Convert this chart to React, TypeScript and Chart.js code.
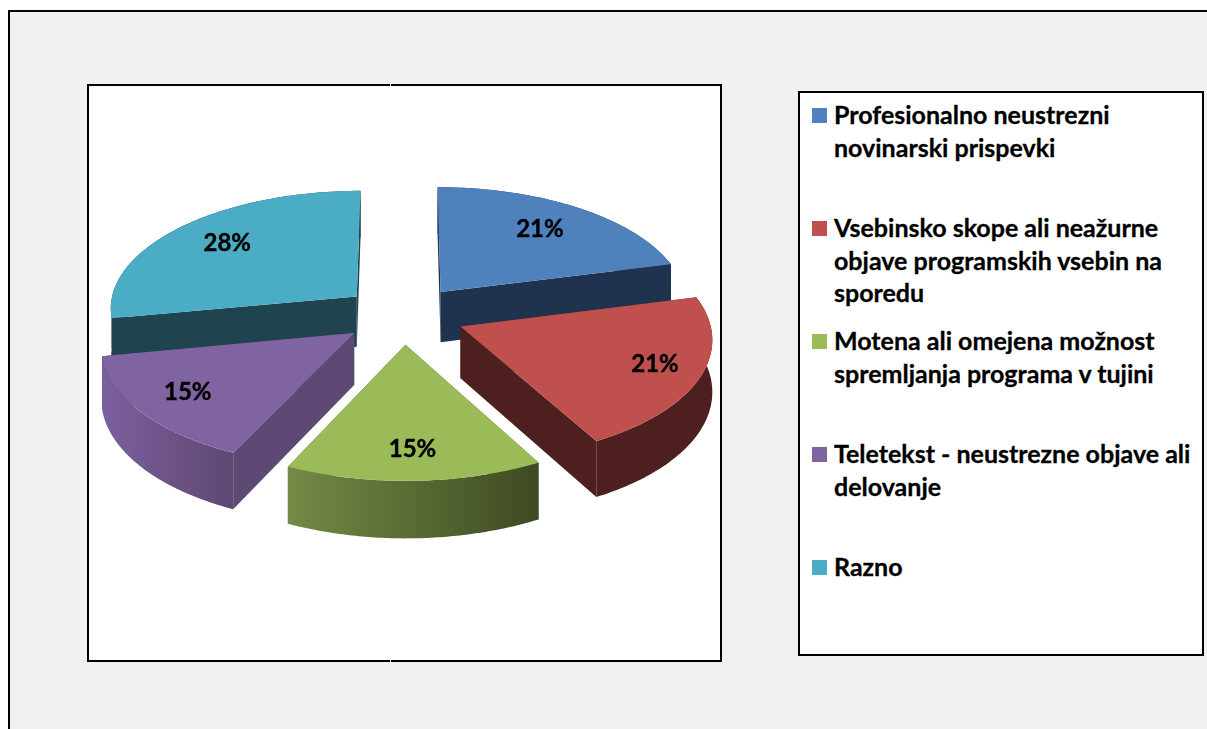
import React, { useEffect, useRef } from "react";
import { Chart, registerables } from "chart.js";

Chart.register(...registerables);

const categories = [
  ["Profesionalno neustrezni", "novinarski prispevki"],
  ["Vsebinsko skope ali neažurne", "objave programskih vsebin na", "sporedu"],
  ["Motena ali omejena možnost", "spremljanja programa v tujini"],
  ["Teletekst - neustrezne objave ali", "delovanje"],
  ["Razno"],
];
const shares = [21, 21, 15, 15, 28];
const topColors = ["#4f81bd", "#c0504d", "#9bbb59", "#8064a2", "#4bacc6"];
const radialWallColors = ["#1f334f", "#4e1f1f", "#4a5a2a", "#5c4a75", "#1f4450"];
const arcWallLeft = ["#1f334f", "#4e1f1f", "#748a45", "#7b5f9e", "#1f4450"];
const arcWallRight = ["#1f334f", "#4e1f1f", "#3e4a22", "#5f4872", "#1f4450"];
const labelReach = [0.71, 0.815, 0.8, 0.79, 0.725];
const paintOrder = [0, 4, 3, 1, 2];

const FONT = "Lato, Carlito, Calibri, sans-serif";
const RADIUS = 250;
const EXPLODE = 62;
const HORIZON_Y = 325;
const SQUASH = 120;
const PERSPECTIVE = 0.09;
const WORLD_Y0 = -0.085;
const DEPTH = 51.5;

const pie3d = {
  id: "pie3d",
  beforeDraw(chart: any) {
    const { ctx } = chart;
    ctx.save();
    ctx.fillStyle = "#ffffff";
    ctx.fillRect(0, 0, 1207, 729);
    ctx.fillStyle = "#f1f1f1";
    ctx.fillRect(9, 11, 1198, 718);
    ctx.fillStyle = "#000000";
    ctx.fillRect(8, 10, 1199, 2);
    ctx.fillRect(8, 10, 2, 719);
    ctx.fillStyle = "#ffffff";
    ctx.fillRect(88, 85, 633, 576);
    ctx.strokeStyle = "#000000";
    ctx.lineWidth = 2;
    ctx.strokeRect(88, 85, 633, 576);
    ctx.fillStyle = "#d8d8d8";
    ctx.fillRect(390, 84, 1, 2);
    ctx.fillRect(390, 660, 1, 2);
    ctx.restore();
  },
  beforeDatasetDraw(chart: any) {
    const { ctx } = chart;
    const arcs = chart.getDatasetMeta(0).data;
    const project = (el: any, angle: number, frac: number, drop = 0) => {
      const mid = (el.startAngle + el.endAngle) / 2;
      const off = el.options.offset;
      const wx = (Math.cos(angle) * el.outerRadius * frac + Math.cos(mid) * off) / el.outerRadius;
      const wy = (Math.sin(angle) * el.outerRadius * frac + Math.sin(mid) * off) / el.outerRadius + WORLD_Y0;
      const p = 1 / (1 - PERSPECTIVE * wy);
      return { x: el.x + el.outerRadius * wx * p, y: HORIZON_Y + SQUASH * wy * p + drop * p };
    };
    const arcPoints = (el: any, drop = 0) => {
      const pts = [];
      const n = 80;
      for (let k = 0; k <= n; k++) {
        const a = el.startAngle + ((el.endAngle - el.startAngle) * k) / n;
        pts.push(project(el, a, 1, drop));
      }
      return pts;
    };
    const fillPoly = (pts: any[], fill: any) => {
      ctx.beginPath();
      pts.forEach((q, j) => (j ? ctx.lineTo(q.x, q.y) : ctx.moveTo(q.x, q.y)));
      ctx.closePath();
      ctx.fillStyle = fill;
      ctx.fill();
    };
    ctx.save();
    paintOrder.forEach((i) => {
      const el = arcs[i];
      const top = arcPoints(el);
      const bottom = arcPoints(el, DEPTH);
      const apex = project(el, el.startAngle, 0);
      const apexLow = project(el, el.startAngle, 0, DEPTH);
      const xs = top.map((q) => q.x);
      const grad = ctx.createLinearGradient(Math.min(...xs), 0, Math.max(...xs), 0);
      grad.addColorStop(0, arcWallLeft[i]);
      grad.addColorStop(1, arcWallRight[i]);
      fillPoly([apex, top[0], bottom[0], apexLow], radialWallColors[i]);
      fillPoly([apex, top[top.length - 1], bottom[bottom.length - 1], apexLow], radialWallColors[i]);
      fillPoly([...top, ...bottom.slice().reverse()], grad);
      fillPoly([apex, ...top], topColors[i]);
    });
    ctx.fillStyle = "#000000";
    ctx.strokeStyle = "#000000";
    ctx.lineWidth = 0.4;
    ctx.font = `bold 24px ${FONT}`;
    ctx.textAlign = "center";
    ctx.textBaseline = "middle";
    arcs.forEach((el: any, i: number) => {
      const mid = (el.startAngle + el.endAngle) / 2;
      const q = project(el, mid, labelReach[i]);
      ctx.fillText(`${shares[i]}%`, q.x, q.y - 2);
      ctx.strokeText(`${shares[i]}%`, q.x, q.y - 2);
    });
    ctx.restore();
    return false;
  },
};

export default function App() {
  const ref = useRef<HTMLCanvasElement | null>(null);
  useEffect(() => {
    document.body.style.overflow = "hidden";
    const chart = new Chart(ref.current as HTMLCanvasElement, {
      type: "pie",
      data: {
        labels: categories.map((c) => c.join(" ")),
        datasets: [{ data: shares, backgroundColor: topColors, offset: EXPLODE, borderWidth: 0 }],
      },
      options: {
        responsive: false,
        animation: false,
        radius: RADIUS,
        layout: { padding: { left: 0, top: 0, right: 400, bottom: 99 } },
        plugins: { legend: { display: false }, tooltip: { enabled: false } },
      },
      plugins: [pie3d],
    } as any);
    return () => chart.destroy();
  }, []);
  return (
    <div style={{ position: "absolute", left: 0, top: 0, width: 1207, height: 729, overflow: "hidden" }}>
      <canvas ref={ref} width={1207} height={729} style={{ position: "absolute", left: 0, top: 0 }} />
      <div
        style={{
          position: "absolute",
          left: 798,
          top: 91,
          width: 402,
          height: 561,
          background: "#fff",
          border: "2px solid #000",
        }}
      />
      {categories.map((lines, i) => (
        <div key={i}>
          <div
            style={{
              position: "absolute",
              left: 812,
              top: 108 + i * 113,
              width: 15,
              height: 15,
              background: topColors[i],
            }}
          />
          <div
            style={{
              position: "absolute",
              left: 834,
              top: 98 + i * 113,
              font: `bold 25px/32.5px ${FONT}`,
              WebkitTextStroke: "0.3px #000",
              color: "#000",
              whiteSpace: "nowrap",
            }}
          >
            {lines.map((l, j) => (
              <div key={j}>{l}</div>
            ))}
          </div>
        </div>
      ))}
    </div>
  );
}
